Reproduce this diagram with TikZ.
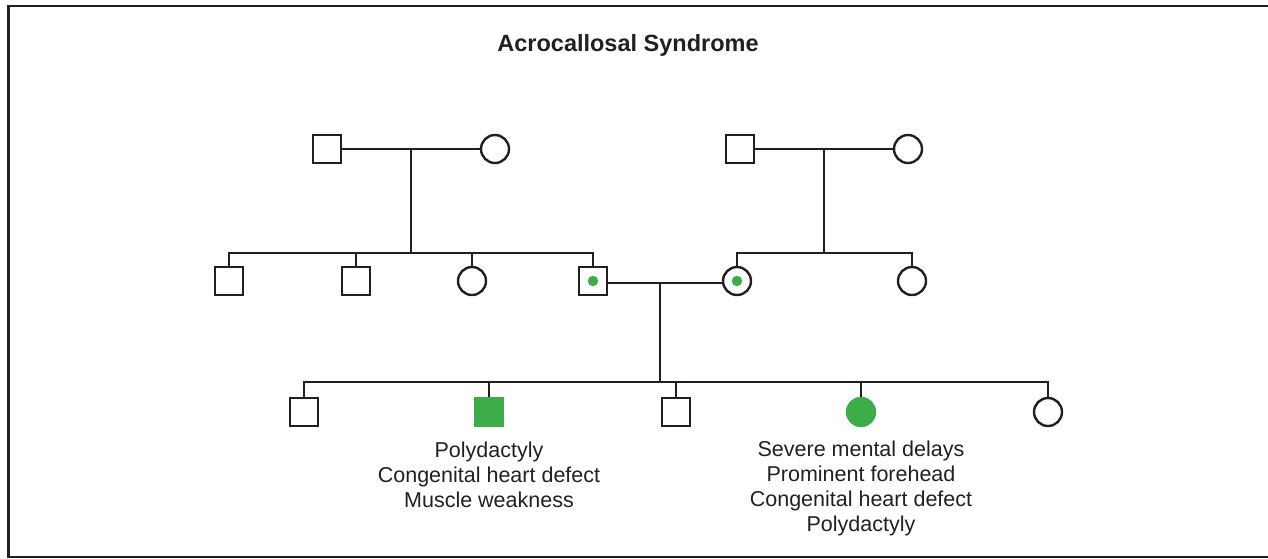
\documentclass[tikz,border=0pt]{standalone}
\usepackage{fontspec}
\setmainfont{Liberation Sans}
\usetikzlibrary{positioning}
\definecolor{affgreen}{RGB}{61,173,74}
\definecolor{framegray}{RGB}{35,31,32}
\begin{document}
\begin{tikzpicture}[x=1pt,y=-1pt]
	\tikzstyle{every node}=[inner sep=0pt, text=framegray]
	\tikzstyle{line}=[line width=2.4pt, color=framegray]
	\tikzstyle{male}=[draw=framegray, line width=2.4pt, rectangle, minimum size=27.5pt]
	\tikzstyle{female}=[draw=framegray, line width=2.4pt, circle, minimum size=28pt]
	\tikzstyle{affected}=[fill=affgreen, draw=affgreen]
	\tikzstyle{carrier}=[fill=affgreen, circle, minimum size=10.5pt]
	\tikzstyle{symptoms}=[align=center, font=\fontsize{21.5}{25}\selectfont]

	\useasboundingbox (0,0) rectangle (1268,558);
	\draw[line width=2.7pt, color=framegray] (1268,6) -- (8.5,6) -- (8.5,557) -- (1268,557);

	\node (title) at (628,45) {\fontsize{23.5}{28}\selectfont\bfseries Acrocallosal Syndrome};

	% generation I
	\node[male] (i1) at (327,149) {};
	\node[female] (i2) at (495,149) {};
	\node[male] (i3) at (740,149) {};
	\node[female] (i4) at (908,149) {};

	% generation II
	\node[male] (ii1) at (229,281) {};
	\node[male] (ii2) at (356,281) {};
	\node[female] (ii3) at (472,281) {};
	\node[male] (ii4) at (593,281) {};
	\node[female] (ii5) at (737,281) {};
	\node[female] (ii6) at (912,281) {};
	\node[carrier] (c4) at (ii4) {};
	\node[carrier] (c5) at (ii5) {};

	% generation III
	\node[male] (iii1) at (304,412) {};
	\node[male, affected] (iii2) at (489,412) {};
	\node[male] (iii3) at (676,412) {};
	\node[female, affected] (iii4) at (861,412) {};
	\node[female] (iii5) at (1048,412) {};

	\node[symptoms, below=15pt of iii2] (s2) {Polydactyly\\Congenital heart defect\\Muscle weakness};
	\node[symptoms, below=14pt of iii4] (s4) {Severe mental delays\\Prominent forehead\\Congenital heart defect\\Polydactyly};

	\coordinate (m1) at (411,149);
	\coordinate (m2) at (824,149);
	\coordinate (m3) at (660,283);
	\coordinate (sib1) at (411,253);
	\coordinate (sib2) at (824,253);
	\coordinate (sib3) at (660,382);

	\draw[line] (i1) -- (i2);
	\draw[line] (i3) -- (i4);
	\draw[line] (ii4.east |- m3) -- (ii5.west |- m3);
	\draw[line] (m1) -- (sib1);
	\draw[line] (m2) -- (sib2);
	\draw[line] (m3) -- (sib3);

	\draw[line] (ii1.north) |- (ii4.north |- sib1) -- (ii4.north);
	\draw[line] (ii2.north) -- (ii2.north |- sib1);
	\draw[line] (ii3.north) -- (ii3.north |- sib1);
	\draw[line] (ii5.north) |- (ii6.north |- sib2) -- (ii6.north);

	\draw[line] (iii1.north) |- (iii5.north |- sib3) -- (iii5.north);
	\draw[line] (iii2.north) -- (iii2.north |- sib3);
	\draw[line] (iii3.north) -- (iii3.north |- sib3);
	\draw[line] (iii4.north) -- (iii4.north |- sib3);
\end{tikzpicture}
\end{document}
